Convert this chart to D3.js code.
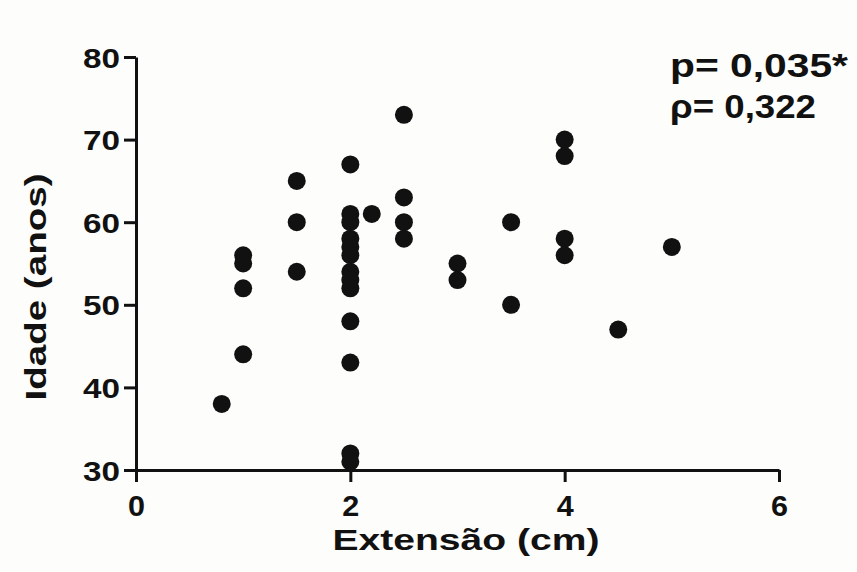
<!DOCTYPE html>
<html>
<head>
<meta charset="utf-8">
<script src="https://cdn.jsdelivr.net/npm/d3@7"></script>
<style>
	body { margin: 0; background: #fdfdfb; }
	svg { display: block; }
	text { font-family: "Liberation Sans", Arial, sans-serif; font-weight: bold; fill: #111; }
</style>
</head>
<body>
<div id="chart"></div>
<script>
// Extensão (cm) and Idade (anos) for each patient
var extensao = [0.8, 1, 1, 1, 1, 1.5, 1.5, 1.5,
	2, 2, 2, 2, 2, 2, 2, 2, 2, 2, 2, 2, 2,
	2.2, 2.5, 2.5, 2.5, 2.5, 3, 3, 3.5, 3.5,
	4, 4, 4, 4, 4.5, 5];
var idade = [38, 56, 55, 52, 44, 65, 60, 54,
	67, 61, 60, 58, 57, 56, 54, 53, 52, 48, 43, 32, 31,
	61, 73, 63, 60, 58, 55, 53, 60, 50,
	70, 68, 58, 56, 47, 57];

var xTicks = [0, 2, 4, 6];
var yTicks = [30, 40, 50, 60, 70, 80];
var stats = ["p= 0,035*", "\u03c1= 0,322"];

createGraph();

function createGraph()
{
	var width = 857;
	var height = 572;

	var xScale = d3.scaleLinear()
		.domain([0, 6])
		.range([136, 779]);

	var yScale = d3.scaleLinear()
		.domain([30, 80])
		.range([470, 57]);

	var svg = d3.select("#chart")
		.append("svg")
		.attr("width", width)
		.attr("height", height);

	var xAxis = d3.axisBottom(xScale)
		.tickValues(xTicks)
		.tickFormat(d3.format("d"))
		.tickSize(12)
		.tickSizeOuter(0)
		.tickPadding(11);
	var yAxis = d3.axisLeft(yScale)
		.tickValues(yTicks)
		.tickFormat(d3.format("d"))
		.tickSize(12)
		.tickSizeOuter(0)
		.tickPadding(4);

	//x axis
	var gx = svg.append("g")
		.attr("transform", "translate(0,470)")
		.call(xAxis);
	gx.selectAll("text")
		.style("font-size", "29px")
		.attr("dy", "0.8em")
		.attr("textLength", 17)
		.attr("lengthAdjust", "spacingAndGlyphs");

	//y axis
	var gy = svg.append("g")
		.attr("transform", "translate(136,0)")
		.call(yAxis);
	gy.selectAll("text")
		.style("font-size", "28px")
		.attr("textLength", 37)
		.attr("lengthAdjust", "spacingAndGlyphs")
		.attr("dy", "0.36em");

	svg.selectAll(".domain, .tick line")
		.attr("stroke", "#111")
		.attr("stroke-width", 3);

	svg.selectAll("circle")
		.data(extensao)
		.enter()
		.append("circle")
		.attr("cx", function(d){
			return xScale(d);
		})
		.attr("cy", function(d, i){
			return yScale(idade[i]);
		})
		.attr("r", 9)
		.attr("fill", "#111");

	//axis titles
	svg.append("text")
		.attr("x", 466)
		.attr("y", 550)
		.attr("text-anchor", "middle")
		.style("font-size", "30px")
		.attr("textLength", 267)
		.attr("lengthAdjust", "spacingAndGlyphs")
		.text("Extensão (cm)");

	svg.append("text")
		.attr("transform", "translate(46,287) rotate(-90)")
		.attr("text-anchor", "middle")
		.style("font-size", "30px")
		.attr("textLength", 227)
		.attr("lengthAdjust", "spacingAndGlyphs")
		.text("Idade (anos)");

	//correlation values
	svg.selectAll(".stat")
		.data(stats)
		.enter()
		.append("text")
		.attr("class", "stat")
		.attr("x", 670)
		.attr("y", function(d, i){
			return 77 + i * 41;
		})
		.style("font-size", "33px")
		.attr("textLength", function(d, i){
			return i == 0 ? 178 : 146;
		})
		.attr("lengthAdjust", "spacingAndGlyphs")
		.text(function(d){ return d; });
}
</script>
</body>
</html>
